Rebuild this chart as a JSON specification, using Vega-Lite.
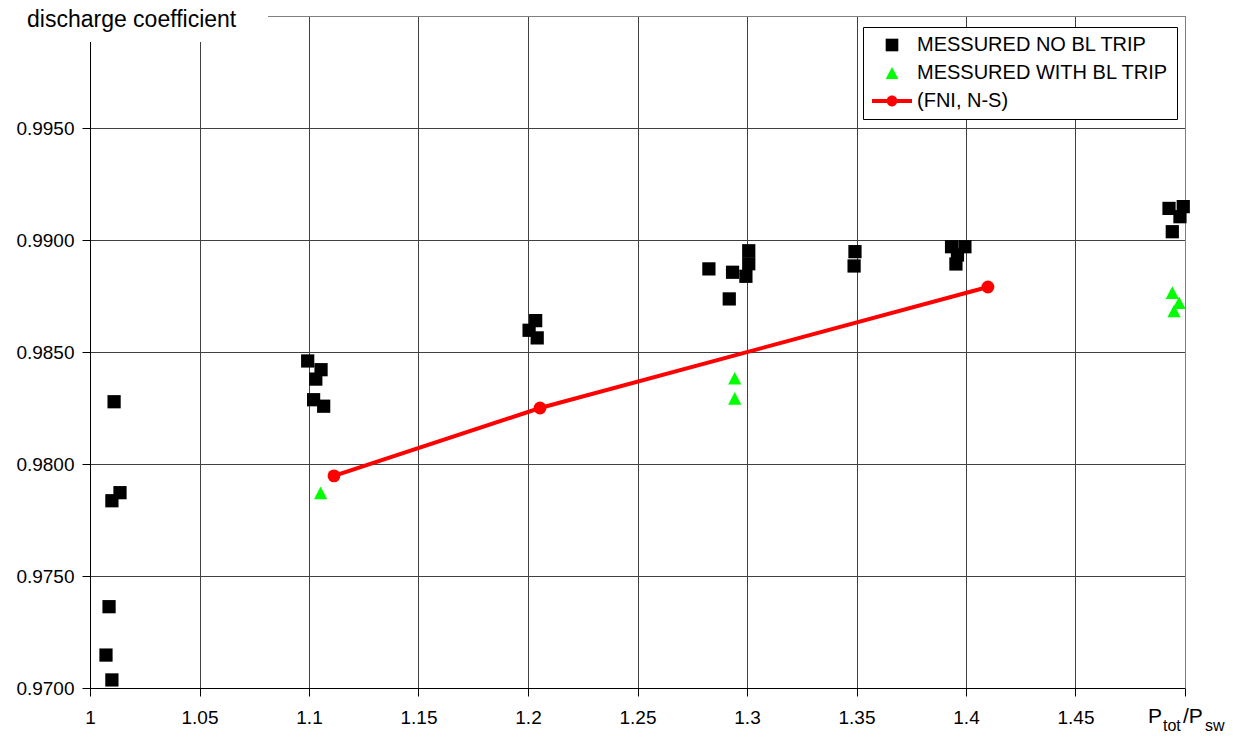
{
  "$schema": "https://vega.github.io/schema/vega-lite/v6.json",
  "width": 1095,
  "height": 672,
  "autosize": {"type": "none"},
  "padding": {"left": 90, "top": 16, "right": 55, "bottom": 50},
  "background": "white",
  "config": {"view": {"stroke": null}, "font": "Liberation Sans"},
  "data": {"values": [
    {"x": 1.0110, "y": 0.98278, "series": "MESSURED NO BL TRIP"},
    {"x": 1.0137, "y": 0.97872, "series": "MESSURED NO BL TRIP"},
    {"x": 1.0100, "y": 0.97836, "series": "MESSURED NO BL TRIP"},
    {"x": 1.0087, "y": 0.97363, "series": "MESSURED NO BL TRIP"},
    {"x": 1.0073, "y": 0.97147, "series": "MESSURED NO BL TRIP"},
    {"x": 1.0100, "y": 0.97036, "series": "MESSURED NO BL TRIP"},
    {"x": 1.0994, "y": 0.98460, "series": "MESSURED NO BL TRIP"},
    {"x": 1.1055, "y": 0.98421, "series": "MESSURED NO BL TRIP"},
    {"x": 1.1031, "y": 0.98379, "series": "MESSURED NO BL TRIP"},
    {"x": 1.1021, "y": 0.98287, "series": "MESSURED NO BL TRIP"},
    {"x": 1.1067, "y": 0.98258, "series": "MESSURED NO BL TRIP"},
    {"x": 1.2035, "y": 0.98640, "series": "MESSURED NO BL TRIP"},
    {"x": 1.2005, "y": 0.98597, "series": "MESSURED NO BL TRIP"},
    {"x": 1.2042, "y": 0.98563, "series": "MESSURED NO BL TRIP"},
    {"x": 1.3008, "y": 0.98952, "series": "MESSURED NO BL TRIP"},
    {"x": 1.3008, "y": 0.98894, "series": "MESSURED NO BL TRIP"},
    {"x": 1.2826, "y": 0.98871, "series": "MESSURED NO BL TRIP"},
    {"x": 1.2934, "y": 0.98856, "series": "MESSURED NO BL TRIP"},
    {"x": 1.2995, "y": 0.98838, "series": "MESSURED NO BL TRIP"},
    {"x": 1.2919, "y": 0.98737, "series": "MESSURED NO BL TRIP"},
    {"x": 1.3493, "y": 0.98948, "series": "MESSURED NO BL TRIP"},
    {"x": 1.3489, "y": 0.98884, "series": "MESSURED NO BL TRIP"},
    {"x": 1.3934, "y": 0.98970, "series": "MESSURED NO BL TRIP"},
    {"x": 1.3995, "y": 0.98970, "series": "MESSURED NO BL TRIP"},
    {"x": 1.3961, "y": 0.98933, "series": "MESSURED NO BL TRIP"},
    {"x": 1.3954, "y": 0.98893, "series": "MESSURED NO BL TRIP"},
    {"x": 1.4927, "y": 0.99141, "series": "MESSURED NO BL TRIP"},
    {"x": 1.4992, "y": 0.99149, "series": "MESSURED NO BL TRIP"},
    {"x": 1.4977, "y": 0.99104, "series": "MESSURED NO BL TRIP"},
    {"x": 1.4942, "y": 0.99037, "series": "MESSURED NO BL TRIP"},
    {"x": 1.1053, "y": 0.97871, "series": "MESSURED WITH BL TRIP"},
    {"x": 1.2944, "y": 0.98383, "series": "MESSURED WITH BL TRIP"},
    {"x": 1.2944, "y": 0.98293, "series": "MESSURED WITH BL TRIP"},
    {"x": 1.4942, "y": 0.98765, "series": "MESSURED WITH BL TRIP"},
    {"x": 1.4973, "y": 0.98720, "series": "MESSURED WITH BL TRIP"},
    {"x": 1.4950, "y": 0.98683, "series": "MESSURED WITH BL TRIP"},
    {"x": 1.1114, "y": 0.97947, "series": "(FNI, N-S)"},
    {"x": 1.2055, "y": 0.98250, "series": "(FNI, N-S)"},
    {"x": 1.4100, "y": 0.98790, "series": "(FNI, N-S)"}
  ]},
  "resolve": {"axis": {"x": "independent", "y": "independent"}},
  "layer": [
    {
      "transform": [{"filter": "datum.series !== '(FNI, N-S)'"}],
      "mark": {"type": "point", "filled": true, "opacity": 1, "size": 175},
      "encoding": {
        "x": {"field": "x", "type": "quantitative",
          "scale": {"domain": [1, 1.5], "nice": false, "zero": false},
          "axis": {"orient": "bottom", "values": [1, 1.05, 1.1, 1.15, 1.2, 1.25, 1.3, 1.35, 1.4, 1.45, 1.5], "format": "~g", "labelExpr": "datum.value >= 1.499 ? '' : datum.label", "grid": true, "gridColor": "#404040", "gridWidth": 1, "domainColor": "#000000", "domainWidth": 1, "tickColor": "#000000", "tickSize": 8, "labelFont": "Liberation Sans", "labelFontSize": 19, "labelColor": "#000000", "labelPadding": 12, "labelFlush": false, "labelOverlap": false, "title": null}},
        "y": {"field": "y", "type": "quantitative",
          "scale": {"domain": [0.97, 1.0], "nice": false, "zero": false},
          "axis": {"orient": "left", "values": [0.97, 0.975, 0.98, 0.985, 0.99, 0.995], "format": ".4f", "grid": true, "gridColor": "#404040", "gridWidth": 1, "domainColor": "#000000", "domainWidth": 1, "tickColor": "#000000", "tickSize": 8, "labelFont": "Liberation Sans", "labelFontSize": 19, "labelColor": "#000000", "labelPadding": 8, "labelOverlap": false, "title": null}},
        "shape": {"field": "series", "type": "nominal",
          "scale": {"domain": ["MESSURED NO BL TRIP", "MESSURED WITH BL TRIP", "(FNI, N-S)"], "range": ["square", "M0,-0.95L1,0.95L-1,0.95Z", "M-3.16,-0.32L3.16,-0.32L3.16,0.32L-3.16,0.32Z M0.85,0A0.85,0.85 0 1 1 -0.85,0A0.85,0.85 0 1 1 0.85,0Z"]},
          "legend": {"title": null, "orient": "none", "legendX": 773, "legendY": 11, "fillColor": "white", "strokeColor": "#000000", "padding": 8, "symbolOffset": 11, "symbolSize": 160, "symbolStrokeWidth": 0, "labelFont": "Liberation Sans", "labelFontSize": 20, "labelColor": "#000000", "labelLimit": 500, "labelOffset": 15, "rowPadding": 8}},
        "color": {"field": "series", "type": "nominal",
          "scale": {"domain": ["MESSURED NO BL TRIP", "MESSURED WITH BL TRIP", "(FNI, N-S)"], "range": ["#000000", "#00ff00", "#ff0000"]},
          "legend": {"title": null, "orient": "none", "legendX": 773, "legendY": 11, "fillColor": "white", "strokeColor": "#000000", "padding": 8, "symbolOffset": 11, "symbolSize": 160, "symbolStrokeWidth": 0, "labelFont": "Liberation Sans", "labelFontSize": 20, "labelColor": "#000000", "labelLimit": 500, "labelOffset": 15, "rowPadding": 8}}
      }
    },
    {
      "transform": [{"filter": "datum.series === '(FNI, N-S)'"}],
      "mark": {"type": "line", "color": "#ff0000", "strokeWidth": 4},
      "encoding": {
        "x": {"field": "x", "type": "quantitative", "axis": {"orient": "top", "labels": false, "ticks": false, "grid": false, "domainColor": "#808080", "domainWidth": 1, "title": null}},
        "y": {"field": "y", "type": "quantitative", "axis": {"orient": "right", "labels": false, "ticks": false, "grid": false, "domainColor": "#808080", "domainWidth": 1, "title": null}}
      }
    },
    {
      "transform": [{"filter": "datum.series === '(FNI, N-S)'"}],
      "mark": {"type": "point", "shape": "circle", "filled": true, "opacity": 1, "color": "#ff0000", "size": 165},
      "encoding": {
        "x": {"field": "x", "type": "quantitative", "axis": null},
        "y": {"field": "y", "type": "quantitative", "axis": null}
      }
    },
    {
      "data": {"values": [{}]},
      "mark": {"type": "rect", "fill": "white", "clip": false},
      "encoding": {
        "x": {"datum": 0.958, "type": "quantitative", "axis": null},
        "x2": {"datum": 1.0813},
        "y": {"datum": 0.99884, "type": "quantitative", "axis": null},
        "y2": {"datum": 1.0008}
      }
    },
    {
      "data": {"values": [{"t": "discharge coefficient"}]},
      "mark": {"type": "text", "align": "left", "baseline": "alphabetic", "dx": -63, "dy": 11, "fontSize": 23, "font": "Liberation Sans", "color": "#000000", "clip": false},
      "encoding": {"x": {"datum": 1.0, "type": "quantitative", "axis": null}, "y": {"datum": 1.0, "type": "quantitative", "axis": null}, "text": {"field": "t"}}
    },
    {
      "data": {"values": [{"t": "P"}]},
      "mark": {"type": "text", "align": "left", "baseline": "alphabetic", "dx": -37, "dy": 35, "fontSize": 21, "font": "Liberation Sans", "color": "#000000", "clip": false},
      "encoding": {"x": {"datum": 1.5, "type": "quantitative", "axis": null}, "y": {"datum": 0.97, "type": "quantitative", "axis": null}, "text": {"field": "t"}}
    },
    {
      "data": {"values": [{"t": "tot"}]},
      "mark": {"type": "text", "align": "left", "baseline": "alphabetic", "dx": -22, "dy": 43, "fontSize": 16, "font": "Liberation Sans", "color": "#000000", "clip": false},
      "encoding": {"x": {"datum": 1.5, "type": "quantitative", "axis": null}, "y": {"datum": 0.97, "type": "quantitative", "axis": null}, "text": {"field": "t"}}
    },
    {
      "data": {"values": [{"t": "/P"}]},
      "mark": {"type": "text", "align": "left", "baseline": "alphabetic", "dx": -2, "dy": 35, "fontSize": 21, "font": "Liberation Sans", "color": "#000000", "clip": false},
      "encoding": {"x": {"datum": 1.5, "type": "quantitative", "axis": null}, "y": {"datum": 0.97, "type": "quantitative", "axis": null}, "text": {"field": "t"}}
    },
    {
      "data": {"values": [{"t": "sw"}]},
      "mark": {"type": "text", "align": "left", "baseline": "alphabetic", "dx": 20, "dy": 43, "fontSize": 16, "font": "Liberation Sans", "color": "#000000", "clip": false},
      "encoding": {"x": {"datum": 1.5, "type": "quantitative", "axis": null}, "y": {"datum": 0.97, "type": "quantitative", "axis": null}, "text": {"field": "t"}}
    }
  ]
}
